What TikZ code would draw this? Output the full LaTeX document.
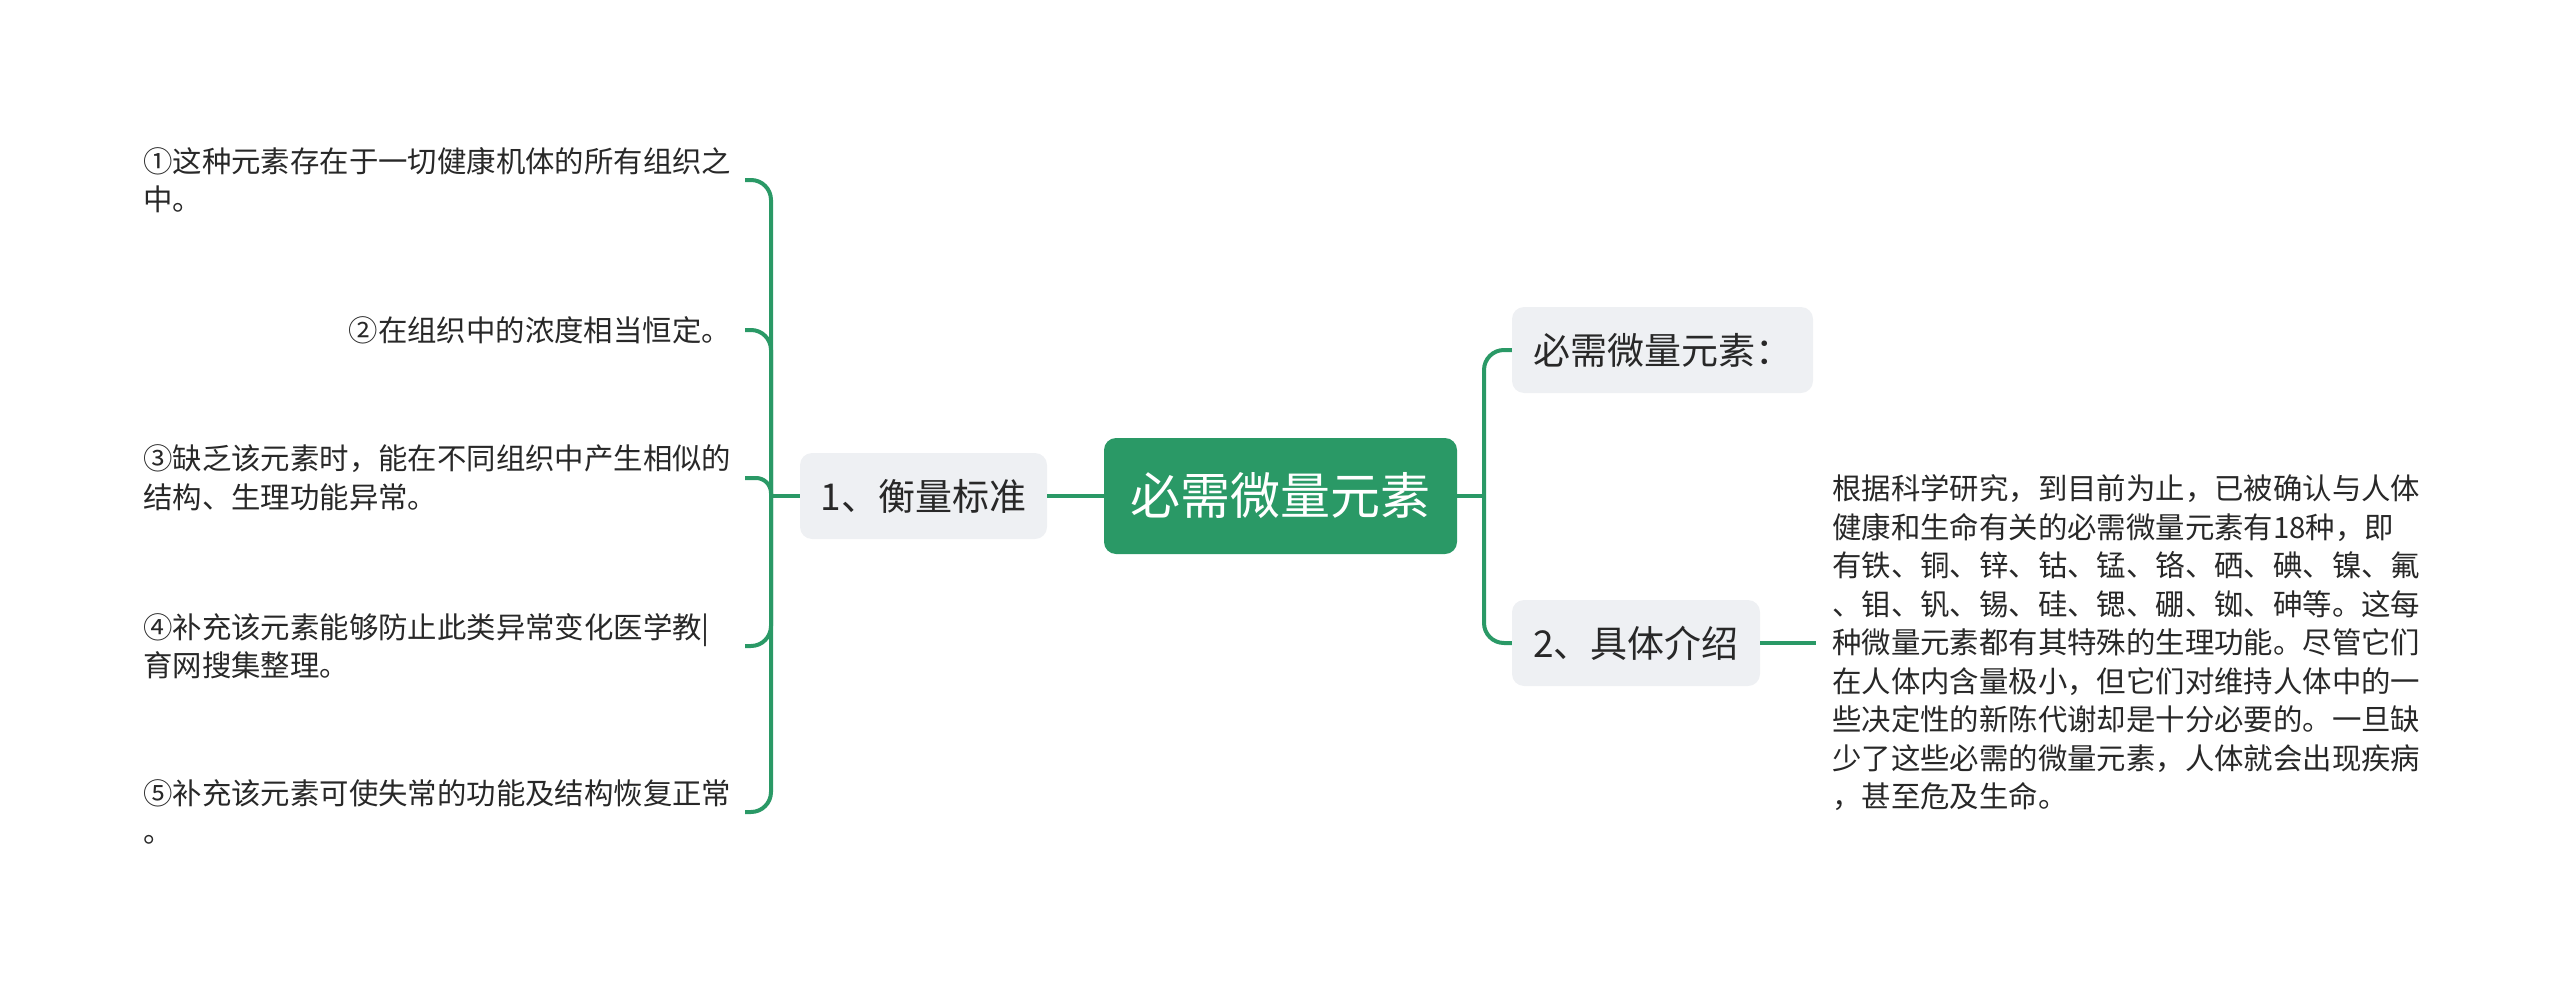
\documentclass[tikz,border=0pt]{standalone}
\usepackage{fontspec}
\setmainfont{Noto Sans CJK SC}
\definecolor{mygreen}{RGB}{42,153,102}
\definecolor{nodegray}{RGB}{238,240,243}
\definecolor{txtgray}{RGB}{40,40,40}
\begin{document}
\begin{tikzpicture}[x=1pt,y=-1pt,
  conn/.style={draw=mygreen,line width=4pt,rounded corners=20pt},
  connsmall/.style={draw=mygreen,line width=4pt,rounded corners=15pt},
  rootbox/.style={fill=mygreen,rounded corners=12pt,minimum width=353pt,minimum height=116pt,text=white,font=\fontsize{50}{58}\selectfont,inner sep=0pt},
  subbox/.style={fill=nodegray,rounded corners=12pt,minimum height=86pt,text=txtgray,font=\fontsize{37}{43}\selectfont,inner sep=0pt},
  leaf/.style={text=txtgray,font=\fontsize{29.4}{38.5}\selectfont,align=left,inner sep=0pt}]
\useasboundingbox (0,0) rectangle (2560,993);
% nodes
\node[rootbox] (root) at (1280.5,496) {必需微量元素};
\node[subbox,minimum width=247pt] (b1) at (923.5,496) {1、衡量标准};
\node[subbox,minimum width=301pt] (r1) at (1662.5,350) {必需微量元素：};
\node[subbox,minimum width=248pt] (r2) at (1636,643) {2、具体介绍};
% leaves left
\node[leaf,anchor=west] (l1) at (143,180) {①这种元素存在于一切健康机体的所有组织之\\中。};
\node[leaf,anchor=east] (l2) at (731,330) {②在组织中的浓度相当恒定。};
\node[leaf,anchor=west] (l3) at (143,478) {③缺乏该元素时，能在不同组织中产生相似的\\结构、生理功能异常。};
\node[leaf,anchor=west] (l4) at (143,646) {④补充该元素能够防止此类异常变化医学教|\\育网搜集整理。};
\node[leaf,anchor=west] (l5) at (143,812) {⑤补充该元素可使失常的功能及结构恢复正常\\。};
% description
\node[leaf,anchor=west] (desc) at (1832,643) {根据科学研究，到目前为止，已被确认与人体\\健康和生命有关的必需微量元素有18种，即\\有铁、铜、锌、钴、锰、铬、硒、碘、镍、氟\\、钼、钒、锡、硅、锶、硼、铷、砷等。这每\\种微量元素都有其特殊的生理功能。尽管它们\\在人体内含量极小，但它们对维持人体中的一\\些决定性的新陈代谢却是十分必要的。一旦缺\\少了这些必需的微量元素，人体就会出现疾病\\，甚至危及生命。};
% connectors
\coordinate (jl) at (771,496);
\coordinate (lx) at (745,0);
\coordinate (jr) at (1484,496);
\draw[conn] (b1.east) -- (root.west);
\draw[conn] (b1.west) -- (jl);
\draw[conn] (jl) |- (lx |- l1.east);
\draw[conn] (jl) |- (lx |- l2.east);
\draw[connsmall] (jl) |- (lx |- l3.east);
\draw[conn] (jl) |- (lx |- l4.east);
\draw[conn] (jl) |- (lx |- l5.east);
\draw[conn] (root.east) -- (jr);
\draw[conn] (jr) |- (r1.west);
\draw[conn] (jr) |- (r2.west);
\draw[conn] (r2.east) -- ([xshift=-16pt]desc.west);
\end{tikzpicture}
\end{document}
